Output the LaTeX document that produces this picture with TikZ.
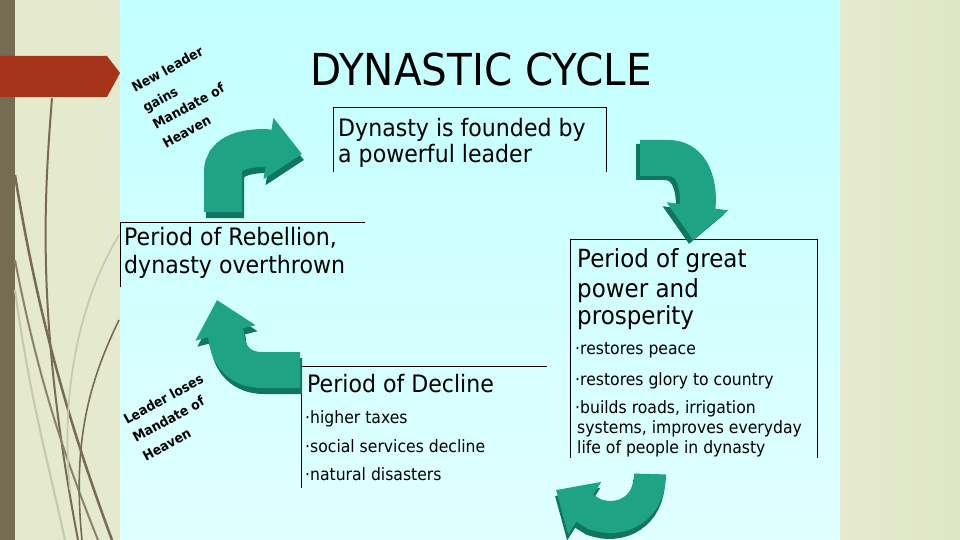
\documentclass[tikz,border=0pt]{standalone}
\usepackage{fontspec}
\newfontfamily\cf[FakeStretch=0.92]{DejaVu Sans}
\usetikzlibrary{arrows.meta}
\definecolor{panelTop}{RGB}{194,255,255}
\definecolor{panelBot}{RGB}{224,255,255}
\definecolor{beigeL}{RGB}{229,233,206}
\definecolor{beigeRa}{RGB}{230,234,208}
\definecolor{beigeRb}{RGB}{222,230,196}
\definecolor{barBrown}{RGB}{118,108,84}
\definecolor{bannerRed}{RGB}{166,52,24}
\definecolor{tealMain}{RGB}{30,163,132}
\definecolor{tealDark}{RGB}{15,118,94}
\definecolor{lineLight}{RGB}{198,200,172}
\tikzset{
  boxline/.style={draw=black, line width=1pt},
  heading/.style={anchor=base west, inner sep=0pt, font=\cf\fontsize{24}{28}\selectfont},
  bigheading/.style={anchor=base west, inner sep=0pt, font=\cf\fontsize{25}{28}\selectfont},
  bullet/.style={anchor=base west, inner sep=0pt, font=\cf\fontsize{17}{20}\selectfont},
  tilted/.style={anchor=base west, inner sep=0pt, rotate=29, font=\cf\bfseries\fontsize{13.5}{15}\selectfont},
  cycarrow/.style={draw=tealMain, line width=#1, -{Triangle[length=34pt 0 0,width=60pt 0 0]}},
  cycshadow/.style={draw=tealDark, line width=#1, -{Triangle[length=34pt 0 0,width=60pt 0 0]}},
  deco/.style={line width=#1, barBrown},
}
\begin{document}
\begin{tikzpicture}[x=1pt,y=-1pt]
\useasboundingbox (0,0) rectangle (960,540);
% backgrounds
\fill[beigeL] (0,0) rectangle (120,540);
\fill[barBrown] (0,0) rectangle (15,540);
\shade[left color=beigeRa, right color=beigeRb] (840,0) rectangle (960,540);
\shade[top color=panelTop, bottom color=panelBot] (120,0) rectangle (840,540);
% decorative curves
\draw[deco=2pt] (52,98) .. controls (44,200) and (36,320) .. (78,540);
\draw[deco=2.5pt] (15,175) .. controls (40,330) and (75,440) .. (112,540);
\draw[deco=2pt, barBrown!85] (15,260) .. controls (40,390) and (70,470) .. (98,540);
\draw[lineLight, line width=2pt] (15,290) .. controls (30,400) and (50,470) .. (65,540);
\draw[lineLight, line width=1.6pt] (119,235) .. controls (80,300) and (60,390) .. (70,490);
\draw[deco=1.6pt] (119,320) .. controls (90,380) and (72,440) .. (82,540);
% banner
\fill[bannerRed] (0,56) -- (107,56) -- (120,73) -- (107,97) -- (0,97) -- cycle;
% boxes
\draw[boxline] (333,172) -- (333,108) -- (606,108) -- (606,172);
\draw[boxline] (120,287) -- (120,222) -- (365,222);
\draw[boxline] (570,458) -- (570,239) -- (817,239) -- (817,458);
\draw[boxline] (301,488) -- (301,366) -- (547,366);
% arrows
\draw[cycshadow=38pt, shift={(2,6)}] (223,212) -- (223,172) .. controls (223,155) and (240,148) .. (265,148) -- (302,154);
\draw[cycarrow=38pt] (223,212) -- (223,172) .. controls (223,155) and (240,148) .. (265,148) -- (302,154);
\draw[cycshadow=36pt, shift={(-4,4)}] (640,158) -- (668,158) .. controls (688,158) and (698,175) .. (698,202) -- (693,240);
\draw[cycarrow=36pt] (640,158) -- (668,158) .. controls (688,158) and (698,175) .. (698,202) -- (693,240);
\draw[cycshadow=32pt, shift={(-1,6)}] (650,474) .. controls (650,508) and (622,524) .. (594,514) -- (556,490);
\draw[cycarrow=32pt] (650,474) .. controls (650,508) and (622,524) .. (594,514) -- (556,490);
\draw[cycshadow=36pt, shift={(2,6)}] (300,370) -- (262,370) .. controls (242,370) and (228,358) .. (226,335) -- (217,300);
\draw[cycarrow=36pt] (300,370) -- (262,370) .. controls (242,370) and (228,358) .. (226,335) -- (217,300);
% title
\node[anchor=base, inner sep=0pt, font=\cf\fontsize{44}{48}\selectfont] (title) at (481,86) {DYNASTIC CYCLE};
% box 1
\node[heading] (f1) at (338,137) {Dynasty is founded by};
\node[heading] (f2) at (338,163) {a powerful leader};
% rebellion
\node[heading] (r1) at (124,245) {Period of Rebellion,};
\node[heading] (r2) at (124,273) {dynasty overthrown};
% great power
\node[bigheading] (g1) at (577,267) {Period of great};
\node[bigheading] (g2) at (577,297) {power and};
\node[bigheading] (g3) at (577,324) {prosperity};
\node[bullet] (g4) at (575,354) {·restores peace};
\node[bullet] (g5) at (575,385) {·restores glory to country};
\node[bullet] (g6) at (575,413) {·builds roads, irrigation};
\node[bullet] (g7) at (577,433) {systems, improves everyday};
\node[bullet] (g8) at (577,453) {life of people in dynasty};
% decline
\node[heading] (d1) at (307,392) {Period of Decline};
\node[bullet] (d2) at (305,423) {·higher taxes};
\node[bullet] (d3) at (305,452) {·social services decline};
\node[bullet] (d4) at (305,480) {·natural disasters};
% tilted labels
\node[tilted] (n1) at (135,93) {New leader};
\node[tilted] (n2) at (146,113) {gains};
\node[tilted] (n3) at (156,130) {Mandate of};
\node[tilted] (n4) at (166,149) {Heaven};
\node[tilted] (l1) at (127,425) {Leader loses};
\node[tilted] (l2) at (136,443) {Mandate of};
\node[tilted] (l3) at (146,462) {Heaven};
\end{tikzpicture}
\end{document}
